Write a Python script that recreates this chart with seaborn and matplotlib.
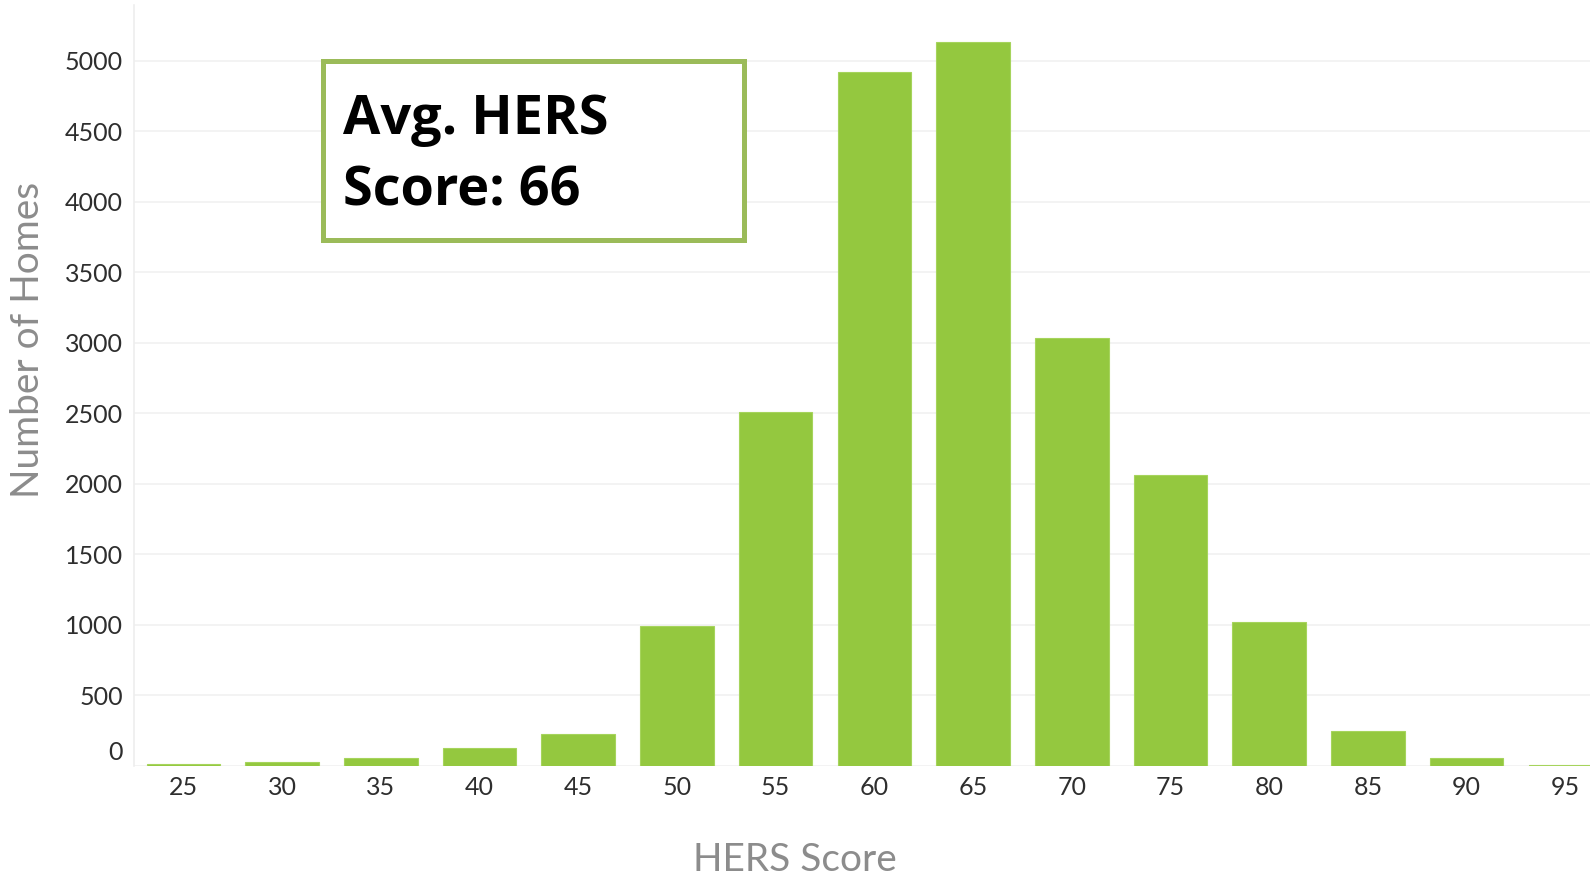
import numpy as np
import pandas as pd
import matplotlib
matplotlib.use("Agg")
import matplotlib.pyplot as plt
from matplotlib.patches import Rectangle
from matplotlib.transforms import ScaledTranslation
import seaborn as sns

# HERS score buckets and number of homes in each
scores = ["25", "30", "35", "40", "45", "50", "55", "60", "65", "70", "75", "80", "85", "90", "95"]
homes = [15, 30, 60, 128, 225, 990, 2510, 4920, 5135, 3035, 2065, 1020, 245, 60, 10]
y_ticks = [0, 500, 1000, 1500, 2000, 2500, 3000, 3500, 4000, 4500, 5000]
avg_text = "Avg. HERS\nScore: 66"

df = pd.DataFrame({"score": scores, "homes": homes})

sns.set_style("white")
plt.rcParams['font.family'] = ['Lato', 'DejaVu Sans']

fig = plt.figure(figsize=(15.9, 8.8), dpi=100)
ax = fig.add_axes([134 / 1590, 1 - 766 / 880, 1 - 134 / 1590, (766 - 5) / 880])

sns.barplot(data=df, x="score", y="homes", color="#94c83f", saturation=1,
            width=0.745, ax=ax, edgecolor="#a6d45c", linewidth=0.8)

ax.set_xlim(-0.5, 14.25)
ax.set_ylim(0, 5397)
ax.set_yticks(y_ticks)
ax.set_yticklabels([str(v) for v in y_ticks])
ax.yaxis.grid(True, color="#f1f1f1", linewidth=1.2)
ax.set_axisbelow(True)

for s in ["top", "right", "bottom"]:
    ax.spines[s].set_visible(False)
ax.spines["left"].set_color("#eeeeee")
ax.spines["left"].set_linewidth(1.2)

ax.tick_params(axis="y", length=0, pad=8, labelsize=18, labelcolor="#2e2e2e")
ax.tick_params(axis="x", which="major", length=0, pad=7, labelsize=18, labelcolor="#2e2e2e")
ax.set_xticks(np.arange(-0.5, 14.5, 1), minor=True)
ax.tick_params(axis="x", which="minor", length=6, color="#e6e6e6", width=1.2)

# the zero label sits a little above its gridline in the original
zero_lbl = ax.get_yticklabels()[0]
zero_lbl.set_transform(zero_lbl.get_transform() + ScaledTranslation(0, 16 / 100, fig.dpi_scale_trans))

ax.set_ylabel("Number of Homes", fontsize=28, color="#8c8c8c", va="center")
ax.yaxis.set_label_coords(-0.073, 0.56)
ax.set_xlabel("HERS Score", fontsize=28, color="#8c8c8c", va="center")
ax.xaxis.set_label_coords(0.454, -0.124)

# average score callout box
box = Rectangle((323 / 1590, 1 - 240 / 880), (744 - 323) / 1590, (240 - 61) / 880,
                transform=fig.transFigure, facecolor="white", edgecolor="#9bbb59",
                linewidth=3.6, zorder=5)
fig.add_artist(box)
fig.text(343 / 1590, 1 - 156 / 880, avg_text, fontsize=39, fontweight="bold",
         family=["Open Sans", "DejaVu Sans"], color="black", va="center", ha="left",
         linespacing=1.42, zorder=6)

fig.savefig("out.png", dpi=100)
